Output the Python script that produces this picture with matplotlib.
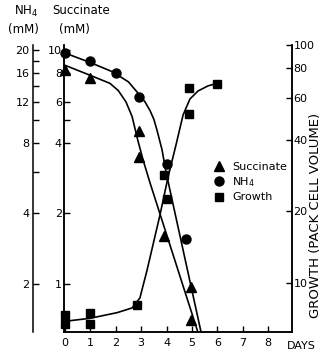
import numpy as np
import matplotlib
matplotlib.use("Agg")
import matplotlib.pyplot as plt
from matplotlib.ticker import FixedLocator, FixedFormatter, NullFormatter, NullLocator
from matplotlib.lines import Line2D
import matplotlib.transforms as mtransforms

# measured points
succDays = [0, 1, 2.9, 2.9, 3.9, 4.95, 4.95]
succinate = [8.2, 7.6, 4.5, 3.5, 1.6, 0.97, 0.7]          # mM

nh4Days = [0, 1, 2, 2.9, 4, 4.75]
nh4 = [19.4, 17.9, 15.9, 12.6, 6.5, 3.1]                  # mM

growthDays = [0, 0, 1, 1, 2.85, 3.9, 4, 4.9, 4.9, 6]
growth = [7.3, 6.7, 7.5, 6.7, 8.1, 28.4, 22.5, 65.9, 51.3, 68.6]

# hand drawn fit curves
succCurveDays = [0, 0.98, 1.77, 2.1, 2.4, 2.64, 2.87, 3.07, 3.35, 5.28]
succCurve = [8.6, 7.8, 7.2, 6.7, 6.0, 5.2, 4.1, 3.4, 2.7, 0.6]

nh4CurveDays = [0, 0.98, 1.89, 2.5, 2.87, 3.15, 3.35, 3.5, 3.62, 3.82, 3.98, 5.39]
nh4Curve = [19.4, 17.7, 16.1, 14.6, 13.1, 12.0, 11.0, 10.1, 9.1, 7.5, 6.0, 1.2]

growthCurveDays = [0, 0.98, 2.05, 2.64, 2.95, 3.23, 3.74, 4.06, 4.37, 4.65, 4.92, 5.24, 5.63, 6.02]
growthCurve = [6.9, 7.1, 7.5, 7.85, 8.65, 11.3, 19.3, 27.9, 38.0, 50.8, 59.3, 64.1, 67.3, 69.2]

dayTicks = [0, 1, 2, 3, 4, 5, 6, 7, 8]
succTicks = [1, 2, 4, 6, 8, 10]
nh4Ticks = [2, 4, 8, 12, 16, 20]
growthTicks = [10, 20, 40, 60, 80, 100]

W, H = 321, 353
plt.rcParams['font.family'] = 'DejaVu Sans'
fig = plt.figure(figsize=(W / 100, H / 100), dpi=100)

def px(x0, y0, x1, y1):
    return [x0 / W, 1 - y1 / H, (x1 - x0) / W, (y1 - y0) / H]

succLim = (0.623, 10.5)
ax = fig.add_axes(px(64, 45, 292, 332))
ax.set_yscale('log')
ax.set_xlim(-0.04, 8.94)
ax.set_ylim(*succLim)

lw = 1.2
ms = 6.5
# NH4 scale is exactly twice the succinate scale, so NH4/2 is drawn on it
ax.plot(succCurveDays, succCurve, color='black', lw=lw)
ax.plot(nh4CurveDays, np.array(nh4Curve) / 2, color='black', lw=lw)
ax.plot(succDays, succinate, '^', color='black', ms=ms + 0.8, clip_on=False)
ax.plot(nh4Days, np.array(nh4) / 2, 'o', color='black', ms=ms, clip_on=False)

axG = ax.twinx()
axG.set_yscale('log')
axG.set_ylim(6.22, 100)
axG.plot(growthCurveDays, growthCurve, color='black', lw=lw)
axG.plot(growthDays, growth, 's', color='black', ms=ms - 0.3, clip_on=False)

handles = [Line2D([], [], marker='^', ls='', color='black', ms=ms + 0.8),
           Line2D([], [], marker='o', ls='', color='black', ms=ms),
           Line2D([], [], marker='s', ls='', color='black', ms=ms - 0.3)]
axG.legend(handles, ['Succinate', 'NH$_4$', 'Growth'], loc='upper left',
           bbox_to_anchor=((215 - 64) / 228, 1 - (162 - 45) / 287), frameon=False,
           fontsize=8, handlelength=0.8, handletextpad=0.75, labelspacing=0.3,
           borderpad=0, borderaxespad=0)

tickKw = dict(direction='in', length=4, width=1, labelsize=8, color='black')
ax.set_xticks(dayTicks)
ax.tick_params(axis='x', pad=4, **tickKw)
ax.yaxis.set_major_locator(FixedLocator(succTicks))
ax.yaxis.set_major_formatter(FixedFormatter([str(t) for t in succTicks]))
ax.yaxis.set_minor_locator(FixedLocator([5]))
ax.yaxis.set_minor_formatter(NullFormatter())
ax.tick_params(axis='y', which='both', pad=1.5, **tickKw)

axG.yaxis.set_major_locator(FixedLocator(growthTicks))
axG.yaxis.set_major_formatter(FixedFormatter([str(t) for t in growthTicks]))
axG.yaxis.set_minor_locator(NullLocator())
axG.tick_params(axis='y', pad=1, **tickKw)

for a in (ax, axG):
    a.spines['top'].set_visible(False)
    for s in a.spines.values():
        s.set_linewidth(1.1)

# separate NH4 scale further left
axN = fig.add_axes(px(33, 45, 34, 332))
axN.set_yscale('log')
axN.set_ylim(succLim[0] * 2, succLim[1] * 2)
axN.patch.set_visible(False)
axN.xaxis.set_visible(False)
for side in ('top', 'right', 'bottom'):
    axN.spines[side].set_visible(False)
axN.spines['left'].set_linewidth(1.1)
axN.yaxis.set_major_locator(FixedLocator(nh4Ticks))
axN.yaxis.set_major_formatter(FixedFormatter([str(t) for t in nh4Ticks]))
axN.yaxis.set_minor_locator(FixedLocator([6, 10, 14, 18]))
axN.yaxis.set_minor_formatter(NullFormatter())
axN.tick_params(axis='y', which='both', left=True, right=False, pad=2.5, **tickKw)

trans = mtransforms.blended_transform_factory(ax.transData, ax.transAxes)
ax.text(8.72, -0.03, 'DAYS', transform=trans, ha='left', va='top', fontsize=8)

fig.text(26 / W, 1 - 11 / H, 'NH$_4$', ha='center', va='center', fontsize=8.5)
fig.text(23 / W, 1 - 30 / H, '(mM)', ha='center', va='center', fontsize=8.5)
fig.text(81 / W, 1 - 11 / H, 'Succinate', ha='center', va='center', fontsize=8.5)
fig.text(74 / W, 1 - 30 / H, '(mM)', ha='center', va='center', fontsize=8.5)
fig.text(315 / W, 1 - 215 / H, 'GROWTH (PACK CELL VOLUME)', rotation=90,
         ha='center', va='center', fontsize=9.5)

fig.savefig('out.png', dpi=100)
